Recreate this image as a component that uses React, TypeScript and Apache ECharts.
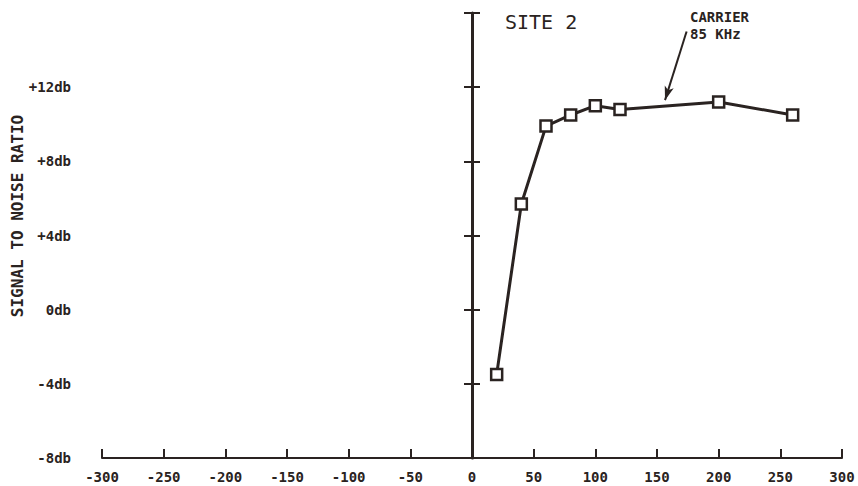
import React, { useEffect, useRef } from "react";
import * as echarts from "echarts";

const distances: number[] = [20, 40, 60, 80, 100, 120, 200, 260];
const snrValues: number[] = [-3.5, 5.7, 9.9, 10.5, 11.0, 10.8, 11.2, 10.5];
const xTicks: number[] = [-300, -250, -200, -150, -100, -50, 0, 50, 100, 150, 200, 250, 300];
const yTicks: number[] = [-8, -4, 0, 4, 8, 12];
const titleText = "SITE 2";
const carrierLines: string[] = ["CARRIER", "85 KHz"];
const yAxisTitle = "SIGNAL TO NOISE RATIO";
const arrowFrom: [number, number] = [174, 15.0];
const arrowTo: [number, number] = [156.5, 11.3];

const INK = "#2a2321";
const FONT = "'DejaVu Sans Mono', 'Liberation Mono', monospace";

export default function App() {
  const ref = useRef<HTMLDivElement>(null);
  useEffect(() => {
    if (!ref.current) return;
    const chart = echarts.init(ref.current, undefined, { renderer: "svg" });
    const baseY = {
      type: "value" as const,
      min: -8,
      max: 16,
      interval: 4,
      splitLine: { show: false },
    };
    chart.setOption({
      animation: false,
      backgroundColor: "#ffffff",
      grid: { left: 102, right: 16, top: 13, bottom: 28, containLabel: false },
      xAxis: {
        type: "value",
        min: -300,
        max: 300,
        interval: 50,
        splitLine: { show: false },
        axisLine: { onZero: false, lineStyle: { color: INK, width: 2 } },
        axisTick: { inside: true, length: 9, lineStyle: { color: INK, width: 2 } },
        axisLabel: {
          margin: 12,
          color: INK,
          fontFamily: FONT,
          fontWeight: "bold",
          fontSize: 14,
          formatter: (v: number) => (xTicks.includes(v) ? String(v) : ""),
        },
      },
      yAxis: [
        {
          ...baseY,
          position: "left",
          axisLine: { show: false },
          axisTick: { show: false },
          axisLabel: {
            margin: 31,
            color: INK,
            fontFamily: FONT,
            fontWeight: "bold",
            fontSize: 14,
            padding: [0, 0, 6, 0],
            formatter: (v: number) =>
              yTicks.includes(v) ? (v > 0 ? "+" + v + "db" : v + "db") : "",
          },
        },
        {
          ...baseY,
          position: "left",
          offset: -370,
          axisLine: { show: true, onZero: false, lineStyle: { color: INK, width: 3 } },
          axisTick: { show: true, inside: false, length: 8, lineStyle: { color: INK, width: 2 } },
          axisLabel: { show: false },
        },
        {
          ...baseY,
          position: "left",
          offset: -370,
          axisLine: { show: false, onZero: false },
          axisTick: { show: true, inside: true, length: 8, lineStyle: { color: INK, width: 2 } },
          axisLabel: { show: false },
        },
      ],
      series: [
        {
          type: "line",
          data: distances.map((d, i) => [d, snrValues[i]]),
          yAxisIndex: 0,
          lineStyle: { color: INK, width: 3 },
          symbol: "rect",
          symbolSize: 11,
          itemStyle: { color: "#ffffff", borderColor: INK, borderWidth: 2.5 },
          z: 5,
          markLine: {
            silent: true,
            symbol: ["none", "arrow"],
            symbolSize: [7, 14],
            lineStyle: { color: INK, width: 2, type: "solid" },
            label: { show: false },
            data: [[{ coord: arrowFrom }, { coord: arrowTo }]],
          },
        },
      ],
      graphic: [
        {
          type: "text",
          x: 505,
          y: 22,
          style: {
            text: titleText,
            fill: INK,
            font: `normal 20px ${FONT}`,
            verticalAlign: "middle",
            align: "left",
          },
        },
        {
          type: "text",
          x: 690,
          y: 17,
          style: {
            text: carrierLines[0],
            fill: INK,
            font: `bold 14px ${FONT}`,
            lineHeight: 14,
            verticalAlign: "middle",
            align: "left",
          },
        },
        {
          type: "text",
          x: 690,
          y: 34,
          style: {
            text: carrierLines[1],
            fill: INK,
            font: `bold 14px ${FONT}`,
            lineHeight: 14,
            verticalAlign: "middle",
            align: "left",
          },
        },
        {
          type: "text",
          x: 17,
          y: 216,
          rotation: Math.PI / 2,
          style: {
            text: yAxisTitle,
            fill: INK,
            font: `bold 16px ${FONT}`,
            verticalAlign: "middle",
            align: "center",
          },
        },
      ],
    });
    return () => chart.dispose();
  }, []);
  return (
    <div
      ref={ref}
      style={{ position: "fixed", left: 0, top: 0, width: 858, height: 486, background: "#fff" }}
    />
  );
}
